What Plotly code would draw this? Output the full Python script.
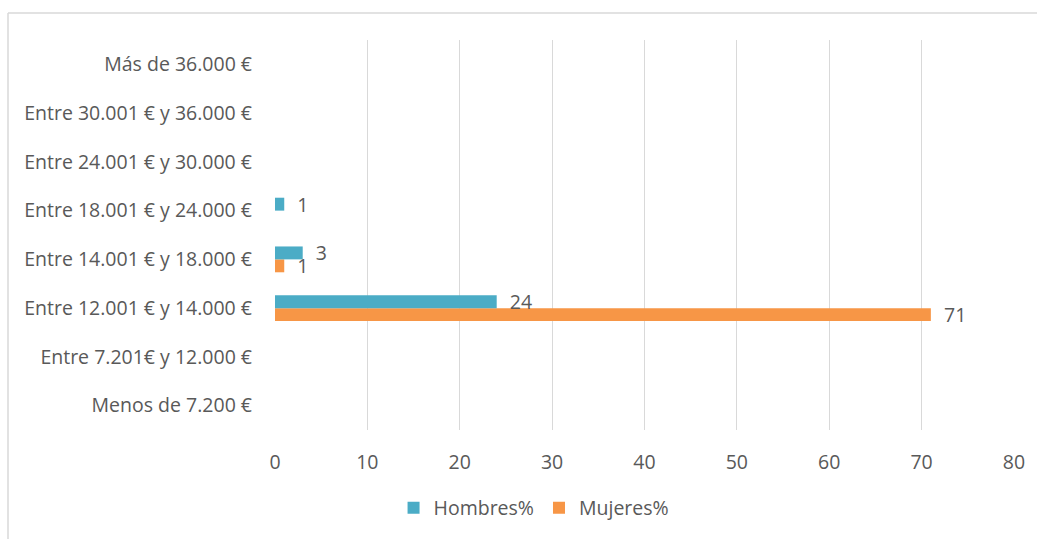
import plotly.graph_objects as go

categories = [
    "Menos de 7.200 €",
    "Entre 7.201€ y 12.000 €",
    "Entre 12.001 € y 14.000 €",
    "Entre 14.001 € y 18.000 €",
    "Entre 18.001 € y 24.000 €",
    "Entre 24.001 € y 30.000 €",
    "Entre 30.001 € y 36.000 €",
    "Más de 36.000 €",
]
hombres = [None, None, 24, 3, 1, None, None, None]
mujeres = [None, None, 71, 1, None, None, None, None]
x_ticks = [0, 10, 20, 30, 40, 50, 60, 70, 80]

FONT = "Open Sans"
GREY = "#595959"
FS = 19.5

fig = go.Figure()
# Mujeres first so it sits below Hombres within each group
fig.add_trace(go.Bar(
    y=categories, x=mujeres, orientation="h", name="Mujeres%",
    marker=dict(color="#F79646", line=dict(width=0)),
    text=mujeres, texttemplate="  %{x}", textposition="outside",
    textfont=dict(family=FONT, size=FS, color=GREY),
    constraintext="none", cliponaxis=False, legendrank=2,
))
fig.add_trace(go.Bar(
    y=categories, x=hombres, orientation="h", name="Hombres%",
    marker=dict(color="#4BACC6", line=dict(width=0)),
    text=hombres, texttemplate="  %{x}", textposition="outside",
    textfont=dict(family=FONT, size=FS, color=GREY),
    constraintext="none", cliponaxis=False, legendrank=1,
))

L, R, T, B = 275, 23, 40, 109
W, H = 1037, 539
pw, ph = W - L - R, H - T - B
fx = (8 - L) / pw
fy = 1 + (T - 13) / ph

fig.update_layout(
    width=W, height=H,
    margin=dict(l=L, r=R, t=T, b=B, pad=0, autoexpand=False),
    paper_bgcolor="white", plot_bgcolor="white",
    barmode="group", bargap=0.47, bargroupgap=0,
    font=dict(family=FONT, color=GREY, size=FS),
    showlegend=True,
    legend=dict(orientation="h", x=0.515, xref="container", xanchor="center",
                y=1 - 508 / 539, yref="container", yanchor="middle",
                font=dict(family=FONT, size=FS, color=GREY), itemwidth=30,
                traceorder="normal"),
    xaxis=dict(range=[0, 80], tickvals=x_ticks, showgrid=True, gridcolor="#D9D9D9",
               gridwidth=1, zeroline=False, showline=False, ticks="",
               ticklabelstandoff=18, automargin=False,
               tickfont=dict(family=FONT, size=FS, color=GREY)),
    yaxis=dict(categoryorder="array", categoryarray=categories, showgrid=False,
               zeroline=False, showline=False, ticks="", ticklabelstandoff=22,
               automargin=False,
               tickfont=dict(family=FONT, size=FS, color=GREY)),
    shapes=[
        dict(type="line", xref="paper", yref="paper", x0=fx, x1=1.5, y0=fy, y1=fy,
             line=dict(color="#D9D9D9", width=1.5)),
        dict(type="line", xref="paper", yref="paper", x0=fx, x1=fx, y0=fy, y1=-0.5,
             line=dict(color="#D9D9D9", width=1.5)),
    ],
)

fig.write_html("out.html")
